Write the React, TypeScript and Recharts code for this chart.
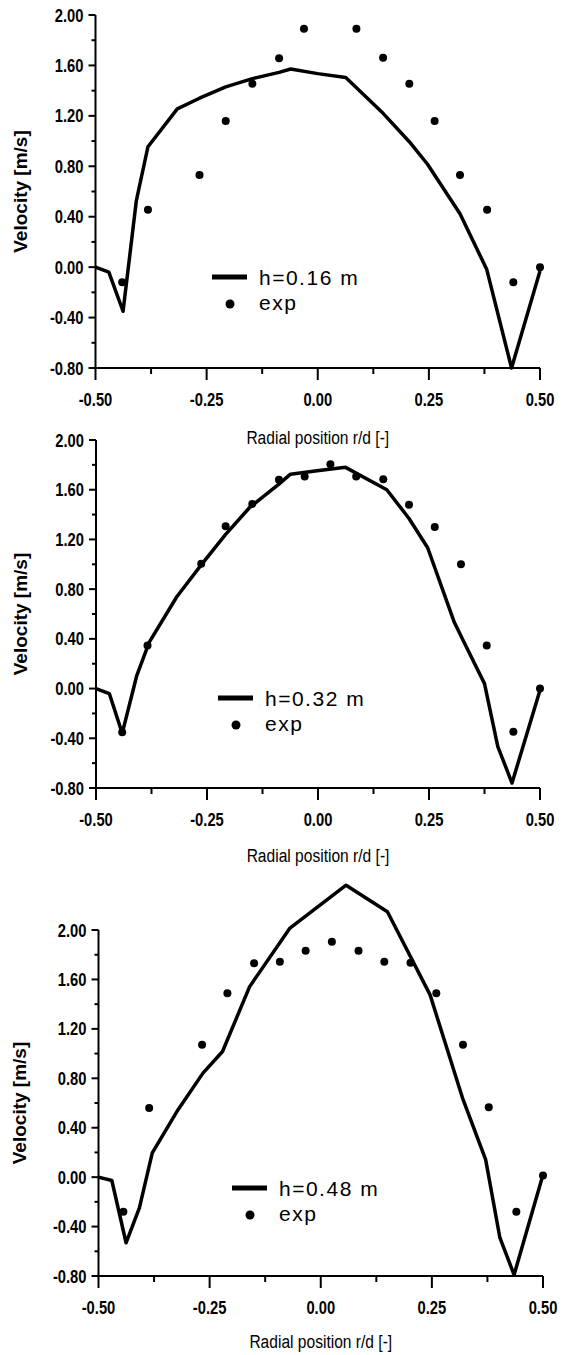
import React from 'react';
import { ComposedChart, Line, Scatter, XAxis, YAxis, ReferenceLine, Legend } from 'recharts';

// axis ticks (minor ones are drawn short and without labels)
const X_TICKS = [-0.5, -0.375, -0.25, -0.125, 0, 0.125, 0.25, 0.375, 0.5];
const X_MAJOR = [-0.5, -0.25, 0, 0.25, 0.5];
const Y_TICKS = [-0.8, -0.6, -0.4, -0.2, 0, 0.2, 0.4, 0.6, 0.8, 1.0, 1.2, 1.4, 1.6, 1.8, 2.0];
const Y_MAJOR = [-0.8, -0.4, 0, 0.4, 0.8, 1.2, 1.6, 2.0];

const HEIGHTS = ['h=0.16 m', 'h=0.32 m', 'h=0.48 m'];

// h = 0.16 m
const SIM_R_1 = [-0.5, -0.47, -0.438, -0.408, -0.382, -0.316, -0.266, -0.207, -0.147, -0.087, -0.061, 0.0, 0.063, 0.147, 0.206, 0.247, 0.32, 0.38, 0.436, 0.5];
const SIM_V_1 = [0.0, -0.04, -0.35, 0.53, 0.955, 1.255, 1.34, 1.43, 1.495, 1.545, 1.572, 1.535, 1.505, 1.22, 0.995, 0.816, 0.423, -0.016, -0.8, -0.03];
const EXP_R_1 = [-0.44, -0.382, -0.266, -0.207, -0.147, -0.087, -0.031, 0.087, 0.147, 0.206, 0.263, 0.32, 0.381, 0.44, 0.5];
const EXP_V_1 = [-0.12, 0.455, 0.73, 1.16, 1.455, 1.657, 1.89, 1.89, 1.66, 1.455, 1.16, 0.73, 0.455, -0.12, 0.0];

// h = 0.32 m
const SIM_R_2 = [-0.5, -0.47, -0.441, -0.408, -0.38, -0.318, -0.263, -0.208, -0.155, -0.088, -0.062, -0.002, 0.062, 0.155, 0.205, 0.247, 0.307, 0.327, 0.375, 0.405, 0.437, 0.5];
const SIM_V_2 = [0.0, -0.04, -0.36, 0.107, 0.373, 0.739, 0.995, 1.24, 1.453, 1.645, 1.725, 1.752, 1.78, 1.6, 1.368, 1.133, 0.533, 0.387, 0.04, -0.467, -0.76, -0.013];
const EXP_R_2 = [-0.441, -0.384, -0.263, -0.208, -0.148, -0.088, -0.03, 0.028, 0.086, 0.147, 0.205, 0.263, 0.322, 0.38, 0.44, 0.5];
const EXP_V_2 = [-0.352, 0.347, 1.005, 1.307, 1.485, 1.68, 1.707, 1.805, 1.707, 1.685, 1.48, 1.3, 1.0, 0.347, -0.347, 0.0];

// h = 0.48 m
const SIM_R_3 = [-0.5, -0.47, -0.438, -0.408, -0.379, -0.321, -0.265, -0.221, -0.16, -0.07, 0.057, 0.15, 0.246, 0.319, 0.371, 0.403, 0.435, 0.498];
const SIM_V_3 = [0.0, -0.027, -0.531, -0.248, 0.196, 0.546, 0.842, 1.017, 1.542, 2.013, 2.363, 2.148, 1.475, 0.64, 0.142, -0.49, -0.79, -0.005];
const EXP_R_3 = [-0.444, -0.386, -0.267, -0.21, -0.15, -0.092, -0.034, 0.025, 0.085, 0.143, 0.202, 0.26, 0.32, 0.378, 0.44, 0.5];
const EXP_V_3 = [-0.28, 0.56, 1.071, 1.488, 1.731, 1.744, 1.833, 1.906, 1.833, 1.744, 1.736, 1.488, 1.071, 0.565, -0.28, 0.013];

const zip = (r: number[], v: number[]) => r.map((x, i) => ({ r: x, v: v[i] }));

const SANS = '"Liberation Sans", Arial, sans-serif';
const NARROW_X = 0.82; // Arial Narrow look: Arial squeezed horizontally

const isIn = (list: number[], v: number) => list.some((m) => Math.abs(m - v) < 1e-6);

// text drawn in a horizontally condensed sans
function NarrowText({ x, y, anchor, size, bold, children }: any) {
  return (
    <g transform={`translate(${x},${y}) scale(${NARROW_X},1)`}>
      <text x={0} y={0} textAnchor={anchor} fontFamily={SANS} fontWeight={bold ? 'bold' : 'normal'} fontSize={size} fill="#000">
        {children}
      </text>
    </g>
  );
}

function XTick(props: any) {
  const { x, y, payload } = props;
  const major = isIn(X_MAJOR, payload.value);
  return (
    <g>
      <line x1={x} y1={y} x2={x} y2={y + (major ? 12 : 6)} stroke="#000" strokeWidth={2} />
      {major && (
        <NarrowText x={x} y={y + 38} anchor="middle" size={18} bold>
          {payload.value.toFixed(2)}
        </NarrowText>
      )}
    </g>
  );
}

function YTick(props: any) {
  const { x, y, payload } = props;
  const major = isIn(Y_MAJOR, payload.value);
  return (
    <g>
      <line x1={x} y1={y} x2={x - (major ? 7 : 4)} y2={y} stroke="#000" strokeWidth={2} />
      {major && (
        <NarrowText x={x - 12} y={y + 6.5} anchor="end" size={18} bold>
          {payload.value.toFixed(2)}
        </NarrowText>
      )}
    </g>
  );
}

const panels = [
  { top: 0, height: 450, margin: { top: 15, right: 22, bottom: 22, left: 15.5 }, yMax: 2.0, titleDy: 76, legend: { left: 205, top: 262 }, sim: zip(SIM_R_1, SIM_V_1), exp: zip(EXP_R_1, EXP_V_1) },
  { top: 430, height: 440, margin: { top: 10, right: 22, bottom: 22, left: 16 }, yMax: 2.0, titleDy: 74, legend: { left: 211, top: 253 }, sim: zip(SIM_R_2, SIM_V_2), exp: zip(EXP_R_2, EXP_V_2) },
  { top: 860, height: 495, margin: { top: 20.6, right: 19, bottom: 19, left: 18.5 }, yMax: 2.4, titleDy: 72, legend: { left: 225, top: 313 }, sim: zip(SIM_R_3, SIM_V_3), exp: zip(EXP_R_3, EXP_V_3) },
];

function LegendBox({ name }: { name: string }) {
  return (
    <svg width={170} height={56} style={{ overflow: 'visible' }}>
      <line x1={7} y1={15} x2={42} y2={15} stroke="#000" strokeWidth={5} />
      <text x={54} y={22.5} fontFamily={SANS} fontSize={21} letterSpacing={1.5} fill="#000">{name}</text>
      <circle cx={25} cy={42} r={4.5} fill="#000" />
      <text x={54} y={47.5} fontFamily={SANS} fontSize={21} letterSpacing={1.5} fill="#000">exp</text>
    </svg>
  );
}

function Panel({ idx }: { idx: number }) {
  const p = panels[idx];
  const yMin = -0.8;
  const yTop = 2.0;
  return (
    <div style={{ position: 'absolute', left: 0, top: p.top, width: 562, height: p.height }}>
      <ComposedChart width={562} height={p.height} margin={p.margin}>
        <XAxis
          type="number"
          dataKey="r"
          domain={[-0.5, 0.5]}
          ticks={X_TICKS}
          interval={0}
          height={60}
          tickSize={0}
          tickMargin={0}
          tickLine={false}
          axisLine={{ stroke: '#000', strokeWidth: 2 }}
          tick={(t: any) => <XTick {...t} />}
          label={{
            content: ({ viewBox }: any) => (
              <NarrowText x={viewBox.x + viewBox.width / 2} y={viewBox.y + p.titleDy} anchor="middle" size={19}>
                Radial position r/d [-]
              </NarrowText>
            ),
          }}
        />
        <YAxis
          type="number"
          dataKey="v"
          domain={[yMin, p.yMax]}
          ticks={Y_TICKS}
          interval={0}
          width={80}
          tickSize={0}
          tickMargin={0}
          tickLine={false}
          axisLine={p.yMax === yTop ? { stroke: '#000', strokeWidth: 2 } : false}
          tick={(t: any) => <YTick {...t} />}
          label={{
            content: ({ viewBox }: any) => {
              const cy = viewBox.y + viewBox.height - ((yTop - yMin) / (p.yMax - yMin)) * viewBox.height / 2;
              return (
                <text x={20} y={cy} transform={`rotate(-90, 20, ${cy})`} textAnchor="middle" dominantBaseline="central" fontFamily={SANS} fontWeight="bold" fontSize={19} fill="#000">
                  Velocity [m/s]
                </text>
              );
            },
          }}
        />
        {p.yMax !== yTop && (
          <ReferenceLine segment={[{ x: -0.5, y: yMin }, { x: -0.5, y: yTop }]} stroke="#000" strokeWidth={2} />
        )}
        <Line data={p.sim} dataKey="v" type="linear" stroke="#000" strokeWidth={3.5} strokeLinejoin="round" dot={false} isAnimationActive={false} legendType="none" />
        <Scatter data={p.exp} dataKey="v" fill="#000" isAnimationActive={false} legendType="none" shape={(s: any) => <circle cx={s.cx} cy={s.cy} r={4} fill="#000" />} />
        <Legend
          layout="horizontal"
          verticalAlign="middle"
          align="center"
          wrapperStyle={{ left: p.legend.left, top: p.legend.top, width: 170, height: 56 }}
          content={() => <LegendBox name={HEIGHTS[idx]} />}
        />
      </ComposedChart>
    </div>
  );
}

export default function App() {
  return (
    <div style={{ position: 'absolute', left: 0, top: 0, width: 562, height: 1355, overflow: 'hidden', background: '#fff' }}>
      <Panel idx={0} />
      <Panel idx={1} />
      <Panel idx={2} />
    </div>
  );
}
